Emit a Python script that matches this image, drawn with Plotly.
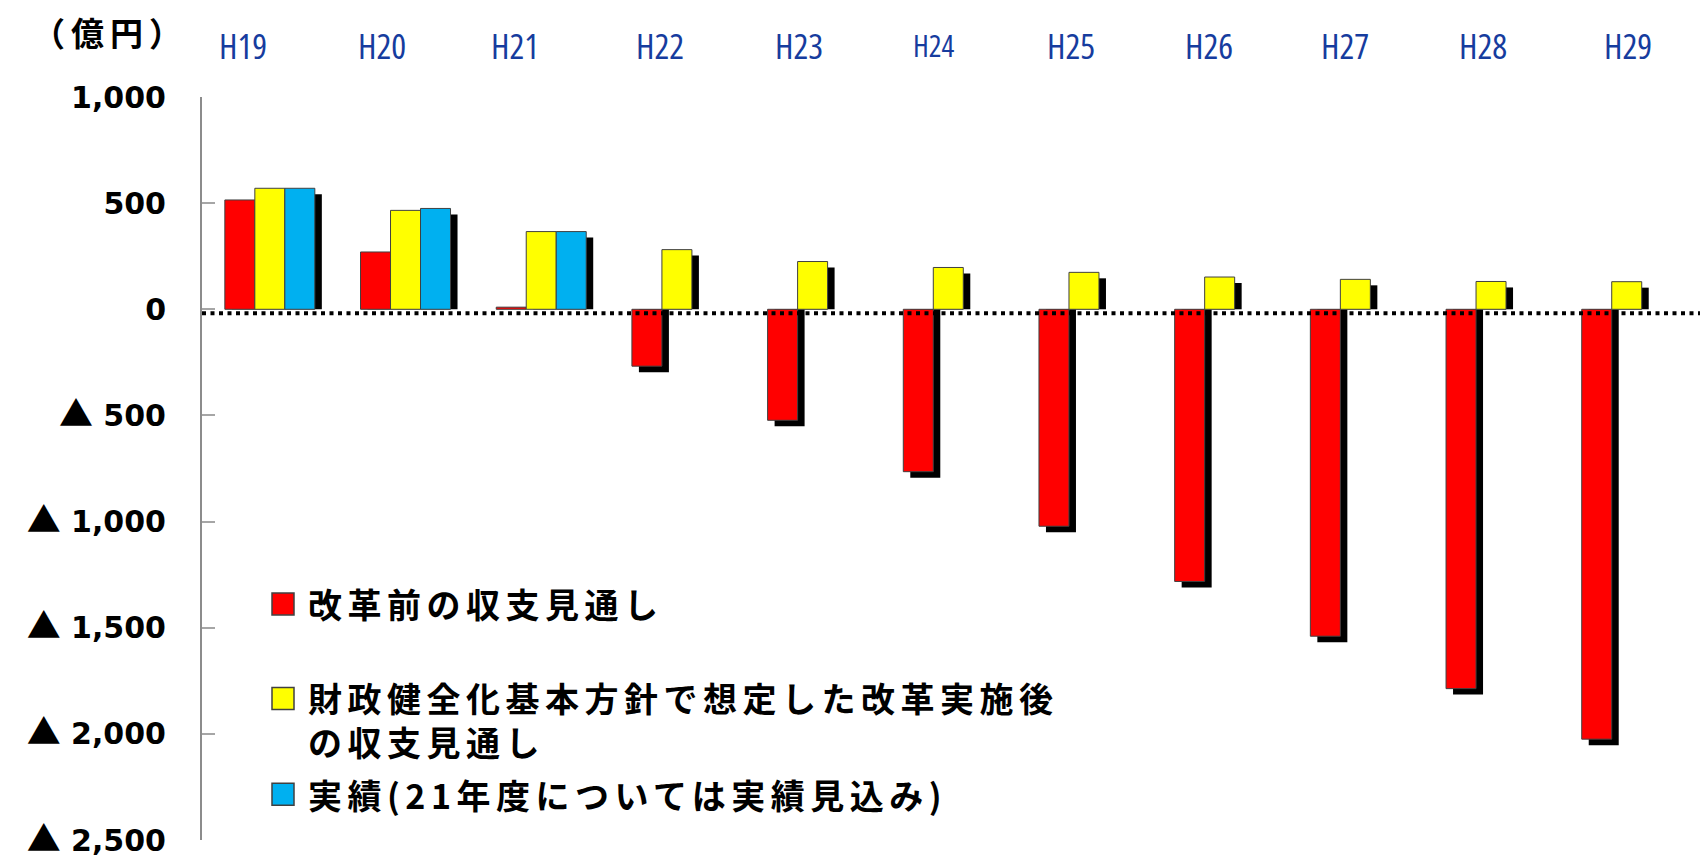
import plotly.graph_objects as go

# ---- data (億円) ----
years = ["H19", "H20", "H21", "H22", "H23", "H24", "H25", "H26", "H27", "H28", "H29"]
before_reform = [515, 270, 10, -268, -523, -765, -1022, -1282, -1540, -1787, -2025]
after_reform = [570, 466, 366, 281, 225, 197, 174, 152, 141, 131, 130]
actual = [570, 475, 366, None, None, None, None, None, None, None, None]

series_names = [
    "改革前の収支見通し",
    "財政健全化基本方針で想定した改革実施後<br>の収支見通し",
    "実績(21年度については実績見込み)",
]
series_colors = ["#FF0000", "#FFFF00", "#00B0F0"]

y_tickvals = [1000, 500, 0, -500, -1000, -1500, -2000, -2500]
y_ticklabels = ["1,000", "500", "0", "500", "1,000", "1,500", "2,000", "2,500"]

unit_label = "（億円）"

# ---- layout geometry ----
W, H = 1700, 861
M_L, M_R, M_T, M_B = 202, 0, 97, 18
PLOT_W = W - M_L - M_R
PLOT_H = H - M_T - M_B
X_RANGE = [-0.5, 10.54]
Y_RANGE = [-2500, 1000]
cat_px = PLOT_W / (X_RANGE[1] - X_RANGE[0])
unit_px = PLOT_H / (Y_RANGE[1] - Y_RANGE[0])

BAR_PX = 30
SHADOW_DX_PX = 7
SHADOW_DY_PX = 6
bar_w = BAR_PX / cat_px
shadow_dx = SHADOW_DX_PX / cat_px
shadow_dy = SHADOW_DY_PX / unit_px


def px_to_paper_x(px):
    return (px - M_L) / PLOT_W


def px_to_paper_y(py):
    return (H - M_B - py) / PLOT_H


def shadow_of(values):
    out = []
    for v in values:
        if v is None:
            out.append(None)
            continue
        s = v - shadow_dy
        out.append(s if (s > 0) == (v > 0) else None)
    return out


series = [before_reform, after_reform, actual]
offsets = [-1.5 * bar_w, -0.5 * bar_w, 0.5 * bar_w]

fig = go.Figure()

# drop shadows behind the bars
for vals, off in zip(series, offsets):
    fig.add_trace(go.Bar(
        x=years, y=shadow_of(vals), base=0,
        width=bar_w, offset=off + shadow_dx,
        marker=dict(color="#000000", line=dict(width=0)),
        showlegend=False, hoverinfo="skip",
    ))

# main bars
for vals, off, name, color in zip(series, offsets, series_names, series_colors):
    fig.add_trace(go.Bar(
        x=years, y=vals, base=0,
        width=bar_w, offset=off,
        name=name.replace("<br>", ""),
        marker=dict(color=color, line=dict(width=1, color="#404040")),
        showlegend=False,
    ))

tri = "<span style='font-family:Noto Sans CJK JP;font-size:34px'>▲</span> "
y_ticktext = [(tri + t) if v < 0 else t for v, t in zip(y_tickvals, y_ticklabels)]

fig.update_layout(
    width=W, height=H,
    margin=dict(l=M_L, r=M_R, t=M_T, b=M_B, pad=0),
    paper_bgcolor="white", plot_bgcolor="white",
    barmode="overlay",
    showlegend=False,
    font=dict(family="Noto Sans CJK JP", color="#000000"),
    xaxis=dict(
        type="category", range=X_RANGE, showticklabels=False,
        showline=False, showgrid=False, zeroline=False, ticks="",
    ),
    yaxis=dict(
        range=Y_RANGE, tickvals=y_tickvals, ticktext=y_ticktext,
        showline=True, linecolor="#8C8C8C", linewidth=2,
        ticks="inside", ticklen=13, tickwidth=2, tickcolor="#A6A6A6",
        showgrid=False, zeroline=False,
        ticklabelstandoff=28, ticklabeloverflow="allow",
        tickfont=dict(family="DejaVu Sans", size=30, color="#000000", weight="bold"),
    ),
)

# dotted zero reference line
fig.add_shape(
    type="line", xref="paper", x0=0, x1=1,
    yref="y", ysizemode="pixel", yanchor=0, y0=-4, y1=-4,
    line=dict(color="#000000", width=4, dash="4px,4.5px"),
    layer="above",
)

# fiscal year labels along the top (narrow face of Open Sans)
label_shift = [-27, -24, -26, -17, -14, -14, -13, -11, -10, -8, 1]
label_size = [35, 35, 35, 35, 35, 30, 35, 35, 35, 35, 35]
narrow = "<span style=\"font-stretch:78%%\">%s</span>"
for yr, dx, fs in zip(years, label_shift, label_size):
    fig.add_annotation(
        x=yr, xref="x", y=px_to_paper_y(45), yref="paper",
        xanchor="center", yanchor="middle", xshift=dx,
        text=narrow % yr, showarrow=False,
        font=dict(family="Open Sans", size=fs, color="#163C9E", weight=500),
    )

# unit label
fig.add_annotation(
    x=px_to_paper_x(110), xref="paper", y=px_to_paper_y(32), yref="paper",
    xanchor="center", yanchor="middle",
    text="<span style='letter-spacing:6px'>%s</span>" % unit_label, showarrow=False,
    font=dict(family="Noto Sans CJK JP", size=33, color="#000000", weight="bold"),
)

# legend swatches and labels
legend_rows = [606, 722, 797]
legend_swatch_rows = [606, 701, 797]
SW = 22
for name, color, ty, sy in zip(series_names, series_colors, legend_rows, legend_swatch_rows):
    fig.add_shape(
        type="rect", xref="paper", yref="paper",
        x0=px_to_paper_x(272), x1=px_to_paper_x(272 + SW),
        y0=px_to_paper_y(sy + SW / 2), y1=px_to_paper_y(sy - SW / 2),
        fillcolor=color, line=dict(color="#404040", width=1.5), layer="above",
    )
    lines = name.split("<br>")
    txt = "<br>".join("<span style='letter-spacing:5.5px'>%s</span>" % ln for ln in lines)
    fig.add_annotation(
        x=px_to_paper_x(306), xref="paper", y=px_to_paper_y(ty), yref="paper",
        xanchor="left", yanchor="middle", align="left", text=txt, showarrow=False,
        font=dict(family="Noto Sans CJK JP", size=34, color="#000000", weight="bold"),
    )

fig.write_html("out.html")
